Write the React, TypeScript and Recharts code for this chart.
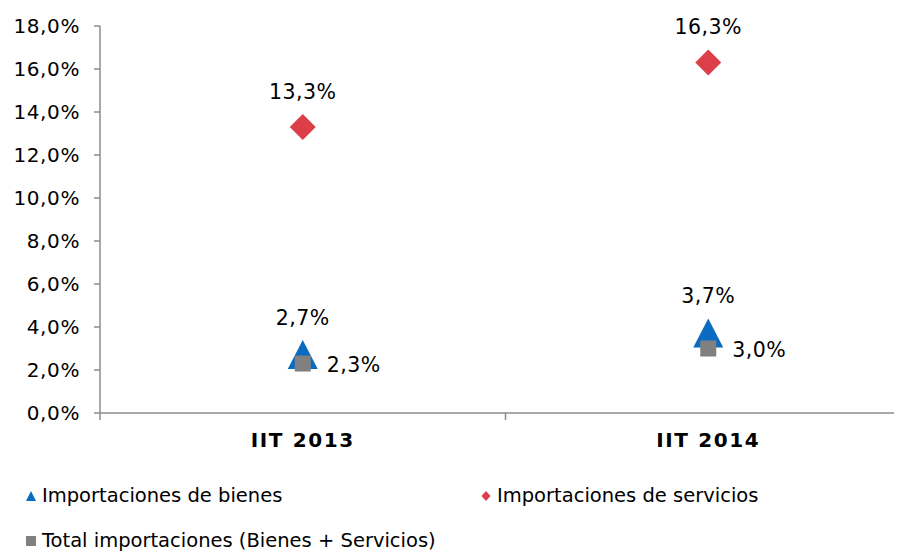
import { ScatterChart, Scatter, XAxis, YAxis, LabelList } from 'recharts'

const categories = ['IIT 2013', 'IIT 2014']
const bienes = [2.7, 3.7]
const servicios = [13.3, 16.3]
const total = [2.3, 3.0]
const yTicks = [0, 2, 4, 6, 8, 10, 12, 14, 16, 18]
const xTicks = [0, 0.5, 1, 1.5, 2]

const FONT = '"DejaVu Sans", Verdana, sans-serif'
const AXIS = '#8c8c8c'
const BLUE = '#0a6cc0'
const RED = '#dc3f47'
const GRAY = '#808080'

const toPoints = (values: number[]) => values.map((y, i) => ({ x: i + 0.5, y }))

const pct = (v: number) => v.toFixed(1).replace('.', ',') + '%'

const XTick = ({ x, y, payload }: any) => {
  const v = payload.value
  if (v % 1 === 0) {
    return <line x1={x} x2={x} y1={y} y2={y + 7} stroke={AXIS} strokeWidth={1.5} />
  }
  return (
    <text
      x={x}
      y={y + 34}
      textAnchor="middle"
      fontFamily={FONT}
      fontSize={20}
      fontWeight="bold"
      letterSpacing={1.6}
      fill="#000"
    >
      {categories[Math.floor(v)]}
    </text>
  )
}

const Triangle = ({ cx, cy }: any) => (
  <polygon points={`${cx},${cy - 15} ${cx + 15},${cy + 14} ${cx - 15},${cy + 14}`} fill={BLUE} />
)
const Diamond = ({ cx, cy }: any) => (
  <polygon points={`${cx},${cy - 13} ${cx + 13},${cy} ${cx},${cy + 13} ${cx - 13},${cy}`} fill={RED} />
)
const Square = ({ cx, cy }: any) => <rect x={cx - 8} y={cy - 8} width={16} height={16} fill={GRAY} />

const center = (props: any) => {
  const vb = props.viewBox || props
  return { cx: vb.x + vb.width / 2, cy: vb.y + vb.height / 2 }
}

const labelAbove = (gap: number) => (props: any) => {
  const { cx, cy } = center(props)
  return (
    <text
      x={cx}
      y={cy - gap}
      textAnchor="middle"
      fontFamily={FONT}
      fontSize={20.5}
      letterSpacing={0.5}
      fill="#000"
    >
      {pct(Number(props.value))}
    </text>
  )
}

const labelRight = (props: any) => {
  const { cx, cy } = center(props)
  return (
    <text
      x={cx + 24}
      y={cy + 8}
      textAnchor="start"
      fontFamily={FONT}
      fontSize={20.5}
      letterSpacing={0.5}
      fill="#000"
    >
      {pct(Number(props.value))}
    </text>
  )
}

const LegendItem = ({ left, top, marker, text }: any) => (
  <div
    style={{
      position: 'absolute',
      left,
      top,
      height: 20,
      lineHeight: '20px',
      display: 'flex',
      alignItems: 'center',
      fontFamily: FONT,
      fontSize: 19.5,
      color: '#000',
      whiteSpace: 'nowrap',
    }}
  >
    <svg width={10} height={12} style={{ marginRight: 6 }}>
      {marker}
    </svg>
    {text}
  </div>
)

export default function App() {
  return (
    <div style={{ position: 'relative', width: 894, height: 546 }}>
      <div style={{ width: 894, height: 445, overflow: 'hidden' }}>
        <ScatterChart width={906} height={445} margin={{ top: 18, right: 3, left: 0, bottom: 0 }}>
          <XAxis
            type="number"
            dataKey="x"
            domain={[0, 2]}
            ticks={xTicks}
            interval={0}
            tickSize={0}
            tickMargin={0}
            tickLine={false}
            tick={<XTick />}
            height={40}
            stroke={AXIS}
            strokeWidth={1.5}
          />
          <YAxis
            type="number"
            dataKey="y"
            domain={[0, 18]}
            ticks={yTicks}
            interval={0}
            width={92}
            tickSize={6}
            tickMargin={14}
            tickFormatter={pct}
            tick={{ fill: '#000', fontSize: 20, fontFamily: FONT, letterSpacing: 0.6 }}
            stroke={AXIS}
            strokeWidth={1.5}
          />
          <Scatter data={toPoints(bienes)} shape={<Triangle />} isAnimationActive={false}>
            <LabelList dataKey="y" content={labelAbove(30)} />
          </Scatter>
          <Scatter data={toPoints(servicios)} shape={<Diamond />} isAnimationActive={false}>
            <LabelList dataKey="y" content={labelAbove(28.5)} />
          </Scatter>
          <Scatter data={toPoints(total)} shape={<Square />} isAnimationActive={false}>
            <LabelList dataKey="y" content={labelRight} />
          </Scatter>
        </ScatterChart>
      </div>
      <LegendItem
        left={18}
        top={478}
        marker={<polygon points="5,1 10,11 0,11" fill={BLUE} />}
        text="Importaciones de bienes"
      />
      <LegendItem
        left={473}
        top={478}
        marker={<polygon points="5,1 9.5,6 5,11 0.5,6" fill={RED} />}
        text="Importaciones de servicios"
      />
      <LegendItem
        left={18}
        top={523}
        marker={<rect x={0} y={1} width={10} height={10} fill={GRAY} />}
        text="Total importaciones (Bienes + Servicios)"
      />
    </div>
  )
}
